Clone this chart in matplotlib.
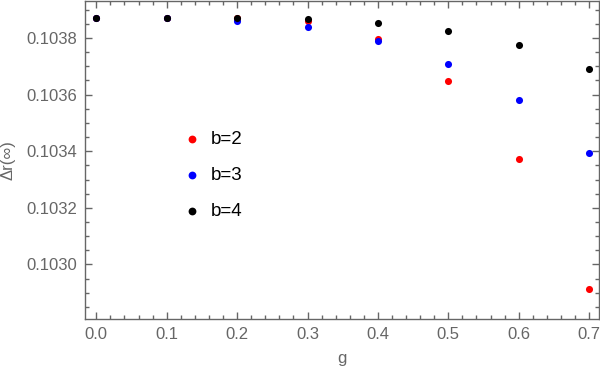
import matplotlib
matplotlib.use('Agg')
import matplotlib.pyplot as plt
from matplotlib.ticker import MultipleLocator

plt.rcParams['font.family'] = ['Liberation Sans', 'DejaVu Sans']

# data
g_vals = [0.0, 0.1, 0.2, 0.3, 0.4, 0.5, 0.6, 0.7]
dr_b2 = [0.103872, 0.103872, 0.103872, 0.103859, 0.103795, 0.103649, 0.103374, 0.102914]
dr_b3 = [0.103872, 0.103872, 0.103861, 0.103838, 0.103790, 0.103709, 0.103581, 0.103395]
dr_b4 = [0.103872, 0.103872, 0.103872, 0.103866, 0.103854, 0.103826, 0.103774, 0.103692]
series = [('b=2', dr_b2, '#ff0000'), ('b=3', dr_b3, '#0000ff'), ('b=4', dr_b4, '#000000')]

GRAY = '#666666'

fig = plt.figure(figsize=(6, 3.71), dpi=100)
ax = fig.add_axes([0.1425, 0.1402, 0.8555, 0.8571])

for label, vals, col in series:
    ax.scatter(g_vals, vals, s=26, color=col, label=label, linewidths=0, zorder=3)

ax.set_xlim(-0.0153, 0.7137)
ax.set_ylim(0.102807, 0.103931)

ax.xaxis.set_major_locator(MultipleLocator(0.1))
ax.xaxis.set_minor_locator(MultipleLocator(0.02))
ax.yaxis.set_major_locator(MultipleLocator(0.0002))
ax.yaxis.set_minor_locator(MultipleLocator(0.00005))
ax.xaxis.set_major_formatter(lambda v, p: f'{v:.1f}')
ax.yaxis.set_major_formatter(lambda v, p: f'{v:.4f}')

ax.tick_params(which='both', direction='in', top=True, right=True,
               colors=GRAY, labelcolor=GRAY, labelsize=12, width=1)
ax.tick_params(which='major', length=5, pad=6)
ax.tick_params(which='minor', length=3)
for sp in ax.spines.values():
    sp.set_edgecolor(GRAY)
    sp.set_linewidth(1)

ax.set_xlabel('g', color=GRAY, fontsize=12, labelpad=6)
ax.set_ylabel('Δr(∞)', color=GRAY, fontsize=12, labelpad=8)

ax.legend(loc='upper left', bbox_to_anchor=(0.148, 0.644), frameon=False,
          fontsize=13.5, labelspacing=1.01, handletextpad=0.3, handlelength=1.43,
          markerscale=1.1, scatterpoints=1)

fig.savefig('out.png', dpi=100)
